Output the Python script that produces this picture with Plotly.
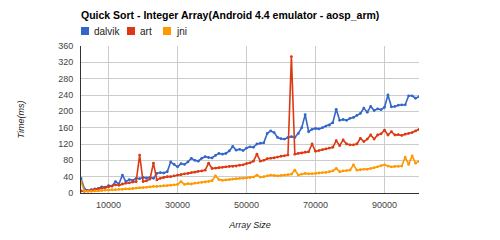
import plotly.graph_objects as go

# ---- data ----
array_size = list(range(2000, 100001, 1000))

dalvik = [36, 10, 6, 8, 10, 11, 15, 14, 18, 17,
          28, 22, 44, 28, 33, 31, 36, 35, 38, 37,
          38, 36, 48, 50, 49, 52, 76, 70, 64, 72,
          70, 76, 85, 80, 78, 85, 89, 87, 86, 92,
          97, 95, 97, 103, 114, 105, 107, 104, 110, 113,
          112, 120, 122, 123, 146, 152, 148, 136, 133, 132,
          136, 138, 136, 146, 160, 192, 150, 156, 158, 157,
          160, 164, 166, 172, 205, 178, 180, 178, 183, 185,
          190, 195, 208, 198, 212, 202, 206, 204, 210, 240,
          211, 212, 215, 216, 216, 238, 238, 232, 236]

art = [5, 4, 5, 7, 8, 10, 12, 13, 15, 17,
       20, 19, 22, 24, 25, 27, 28, 93, 28, 30,
       34, 73, 32, 36, 38, 40, 40, 42, 44, 45,
       47, 48, 50, 51, 53, 54, 56, 73, 60, 61,
       62, 63, 64, 65, 65, 66, 68, 69, 72, 74,
       78, 95, 78, 80, 84, 85, 86, 88, 90, 91,
       93, 334, 95, 97, 98, 100, 101, 120, 102, 104,
       106, 108, 110, 112, 128, 116, 130, 120, 118, 118,
       120, 134, 126, 132, 142, 132, 142, 145, 154, 142,
       150, 142, 143, 141, 144, 146, 148, 152, 156]

jni = [28, 5, 4, 4, 5, 5, 6, 7, 7, 8,
       8, 9, 9, 10, 10, 11, 12, 13, 13, 14,
       15, 16, 16, 17, 18, 18, 19, 20, 21, 28,
       21, 23, 22, 24, 25, 26, 27, 28, 30, 42,
       33, 31, 32, 33, 34, 35, 36, 36, 37, 38,
       39, 44, 39, 40, 42, 44, 43, 42, 43, 44,
       45, 46, 56, 44, 46, 48, 47, 47, 48, 49,
       50, 50, 52, 54, 60, 52, 54, 55, 56, 69,
       56, 57, 58, 58, 60, 62, 64, 67, 69, 66,
       64, 65, 65, 66, 88, 70, 91, 73, 78]

series_names = ["dalvik", "art", "jni"]
series_values = [dalvik, art, jni]
series_colors = ["#3366cc", "#dc3912", "#ff9900"]

x_ticks = [10000, 30000, 50000, 70000, 90000]
y_ticks = list(range(0, 361, 40))

title_text = "Quick Sort - Integer Array(Android 4.4 emulator - aosp_arm)"
x_title = "Array Size"
y_title = "Time(ms)"

FONT = "Arial, Liberation Sans, sans-serif"

fig = go.Figure()
for name, vals, col in zip(series_names, series_values, series_colors):
    fig.add_trace(go.Scatter(
        x=array_size, y=vals, name=name, mode="lines+markers",
        line=dict(color=col, width=1.6),
        marker=dict(color=col, size=2.8),
        showlegend=False,
    ))

L, R, T, B = 81, 81, 46, 47
W, H = 500, 240
pw, ph = W - L - R, H - T - B

# manual legend (square swatches like the reference)
legend_x = [81, 127, 163]
shapes = []
annotations = []
for px, name, col in zip(legend_x, series_names, series_colors):
    x0 = (px - L) / pw
    x1 = (px + 8 - L) / pw
    y0 = (H - B - 35) / ph
    y1 = (H - B - 27) / ph
    shapes.append(dict(type="rect", xref="paper", yref="paper",
                       x0=x0, x1=x1, y0=y0, y1=y1,
                       fillcolor=col, line=dict(width=0)))
    annotations.append(dict(xref="paper", yref="paper",
                            x=(px + 11 - L) / pw, y=(H - B - 31) / ph,
                            xanchor="left", yanchor="middle",
                            text=name, showarrow=False,
                            font=dict(family=FONT, size=10, color="#222222")))

fig.update_layout(
    width=W, height=H,
    margin=dict(l=L, r=R, t=T, b=B),
    paper_bgcolor="white", plot_bgcolor="white",
    title=dict(text="<b>" + title_text + "</b>", x=L / W, xanchor="left",
               y=1 - 15.5 / H, yanchor="middle",
               font=dict(family=FONT, size=10.5, color="#000000")),
    shapes=shapes, annotations=annotations,
    font=dict(family=FONT, size=9, color="#444444"),
)
fig.update_xaxes(
    range=[array_size[0], array_size[-1]],
    tickvals=x_ticks, ticktext=[str(v) for v in x_ticks],
    showgrid=True, gridcolor="#cccccc", gridwidth=1,
    zeroline=False, showline=True, linecolor="#333333", linewidth=1,
    ticks="outside", ticklen=3, tickcolor="white",
    tickfont=dict(family=FONT, size=9, color="#444444"),
    title=dict(text="<i>" + x_title + "</i>", standoff=12,
               font=dict(family=FONT, size=9, color="#222222")),
)
fig.update_yaxes(
    range=[0, 360],
    tickvals=y_ticks,
    showgrid=True, gridcolor="#cccccc", gridwidth=1,
    zeroline=False, showline=True, linecolor="#333333", linewidth=1,
    ticks="outside", ticklen=5, tickcolor="white",
    tickfont=dict(family=FONT, size=9, color="#444444"),
    title=dict(text="<i>" + y_title + "</i>", standoff=32,
               font=dict(family=FONT, size=9, color="#222222")),
)

fig.write_html("out.html")
